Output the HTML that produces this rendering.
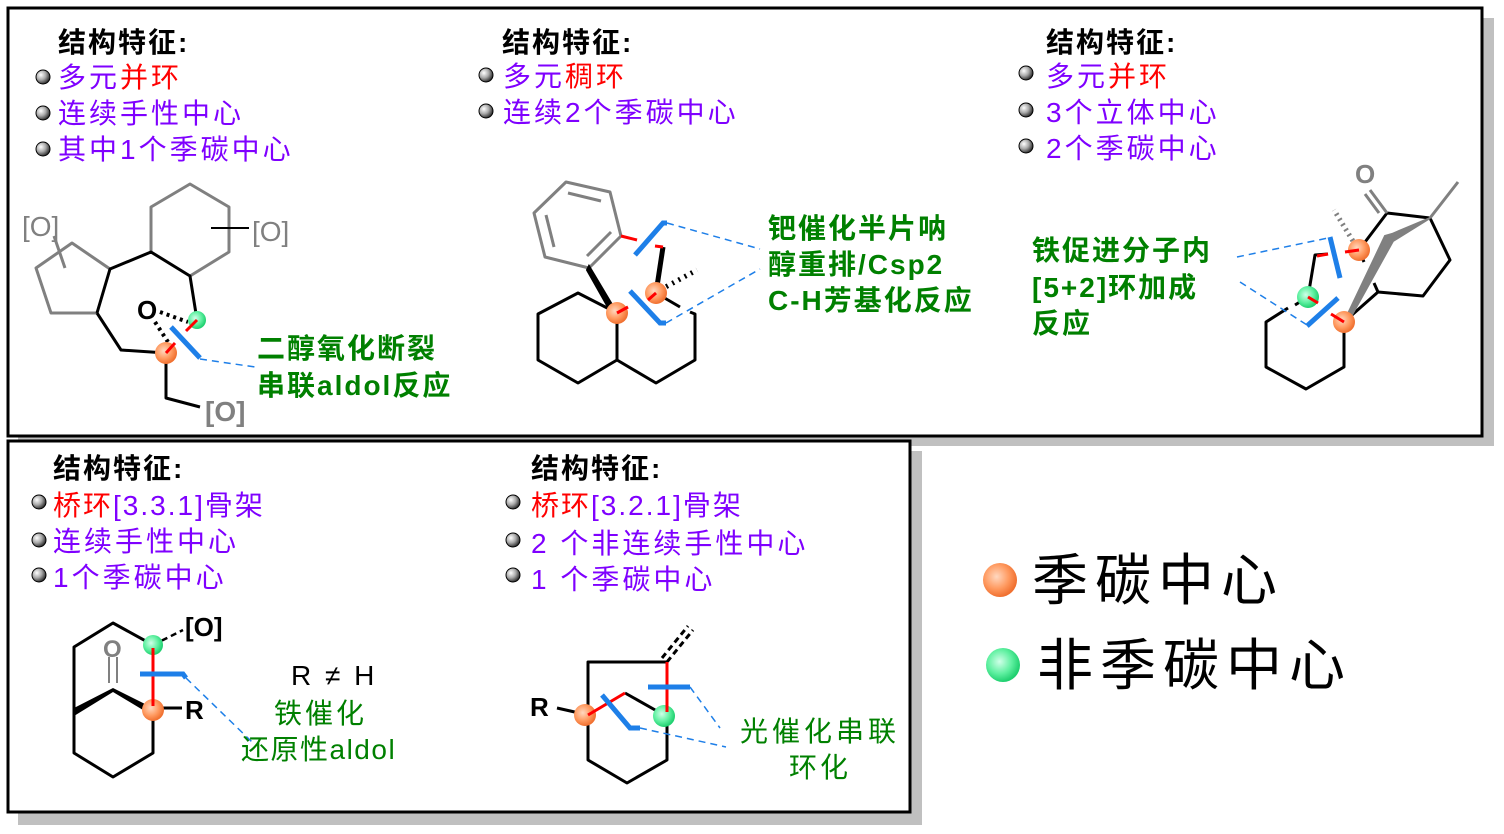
<!DOCTYPE html>
<html><head><meta charset="utf-8"><style>
html,body{margin:0;padding:0;background:#fff;}
svg{display:block;}
text{font-family:"Liberation Sans","Noto Sans CJK SC",sans-serif;}
.h{font-size:28px;fill:#000;font-weight:bold;letter-spacing:2px;}
.p{font-size:28px;fill:#7f00ff;letter-spacing:3px;}
.r{fill:#ff0000;}
.g{font-size:28px;fill:#008000;font-weight:bold;letter-spacing:2px;}
.gn{font-size:28px;fill:#008000;letter-spacing:3px;}
.k{stroke:#000;stroke-width:3;fill:none;stroke-linejoin:round;}
.gr{stroke:#808080;stroke-width:3;fill:none;stroke-linejoin:round;}
.rd{stroke:#ff0000;stroke-width:3;}
.bl{stroke:#1e7fe8;stroke-width:5;fill:none;}
.ds{stroke:#1e7fe8;stroke-width:1.5;stroke-dasharray:7,5;fill:none;}
</style></head><body>
<svg width="1504" height="834" viewBox="0 0 1504 834" xmlns="http://www.w3.org/2000/svg">
<defs>
<radialGradient id="bb" cx="0.35" cy="0.35" r="0.7"><stop offset="0" stop-color="#fff"/><stop offset="0.5" stop-color="#aaa"/><stop offset="1" stop-color="#222"/></radialGradient>
<radialGradient id="og" cx="0.4" cy="0.4" r="0.6"><stop offset="0" stop-color="#ffd8c0"/><stop offset="0.6" stop-color="#ff9a60"/><stop offset="1" stop-color="#f07030"/></radialGradient>
<radialGradient id="gg" cx="0.4" cy="0.4" r="0.6"><stop offset="0" stop-color="#d0ffe8"/><stop offset="0.6" stop-color="#5ef0a0"/><stop offset="1" stop-color="#20d070"/></radialGradient>
</defs>
<rect x="18" y="18" width="1476" height="428" fill="#c0c0c0"/>
<rect x="8" y="8" width="1474" height="428" fill="#fff" stroke="#000" stroke-width="3"/>
<rect x="18" y="451" width="904" height="374" fill="#c0c0c0"/>
<rect x="8" y="441" width="902" height="371" fill="#fff" stroke="#000" stroke-width="3"/>

<text class="h" x="58" y="52">结构特征:</text>
<circle cx="43" cy="77" r="7" fill="url(#bb)" stroke="#000" stroke-width="1"/>
<text class="p" x="58" y="87">多元<tspan class="r">并环</tspan></text>
<circle cx="43" cy="113" r="7" fill="url(#bb)" stroke="#000" stroke-width="1"/>
<text class="p" x="58" y="123">连续手性中心</text>
<circle cx="43" cy="149" r="7" fill="url(#bb)" stroke="#000" stroke-width="1"/>
<text class="p" x="58" y="159">其中1个季碳中心</text>

<text class="h" x="502" y="52">结构特征:</text>
<circle cx="486" cy="75" r="7" fill="url(#bb)" stroke="#000" stroke-width="1"/>
<text class="p" x="503" y="86">多元<tspan class="r">稠环</tspan></text>
<circle cx="486" cy="111" r="7" fill="url(#bb)" stroke="#000" stroke-width="1"/>
<text class="p" x="503" y="122">连续2个季碳中心</text>

<text class="h" x="1046" y="52">结构特征:</text>
<circle cx="1026" cy="73" r="7" fill="url(#bb)" stroke="#000" stroke-width="1"/>
<text class="p" x="1046" y="86">多元<tspan class="r">并环</tspan></text>
<circle cx="1026" cy="110" r="7" fill="url(#bb)" stroke="#000" stroke-width="1"/>
<text class="p" x="1046" y="122">3个立体中心</text>
<circle cx="1026" cy="146" r="7" fill="url(#bb)" stroke="#000" stroke-width="1"/>
<text class="p" x="1046" y="158">2个季碳中心</text>

<text class="h" x="53" y="478">结构特征:</text>
<circle cx="39" cy="502" r="7" fill="url(#bb)" stroke="#000" stroke-width="1"/>
<text class="p" x="53" y="515" style="letter-spacing:2px"><tspan class="r">桥环</tspan>[3.3.1]骨架</text>
<circle cx="39" cy="540" r="7" fill="url(#bb)" stroke="#000" stroke-width="1"/>
<text class="p" x="53" y="551">连续手性中心</text>
<circle cx="39" cy="575" r="7" fill="url(#bb)" stroke="#000" stroke-width="1"/>
<text class="p" x="53" y="587">1个季碳中心</text>

<text class="h" x="531" y="478">结构特征:</text>
<circle cx="513" cy="502" r="7" fill="url(#bb)" stroke="#000" stroke-width="1"/>
<text class="p" x="531" y="515" style="letter-spacing:2px"><tspan class="r">桥环</tspan>[3.2.1]骨架</text>
<circle cx="513" cy="540" r="7" fill="url(#bb)" stroke="#000" stroke-width="1"/>
<text class="p" x="531" y="553">2 个非连续手性中心</text>
<circle cx="513" cy="575" r="7" fill="url(#bb)" stroke="#000" stroke-width="1"/>
<text class="p" x="531" y="589">1 个季碳中心</text>

<circle cx="1000" cy="580" r="17" fill="url(#og)"/>
<text x="1032" y="600" style="font-size:56px;letter-spacing:7px;fill:#000">季碳中心</text>
<circle cx="1003" cy="665" r="17" fill="url(#gg)"/>
<text x="1037" y="685" style="font-size:56px;letter-spacing:7px;fill:#000">非季碳中心</text>

<!-- structure 1 -->
<polyline class="gr" points="110,269 72,243 36,268 51,313 97,313"/>
<polyline class="gr" points="151,252 151,207 190,184 229,207 229,252 190,276"/>
<line class="gr" x1="54" y1="236" x2="65" y2="268" stroke-width="2"/>
<text x="22" y="236" style="font-size:28px;fill:#808080">[O]</text>
<line x1="211" y1="228" x2="249" y2="228" stroke="#000" stroke-width="2"/>
<text x="252" y="241" style="font-size:28px;fill:#808080">[O]</text>
<polyline class="k" points="97,313 110,269 151,252 190,276 197,320"/>
<polyline class="k" points="97,313 121,350 166,353 166,398 200,407"/>
<text x="205" y="421" style="font-size:28px;fill:#808080;font-weight:bold">[O]</text>
<text x="137" y="319" style="font-size:26px;fill:#000;font-weight:bold">O</text>
<line x1="160" y1="312" x2="188" y2="322" stroke="#000" stroke-width="4" stroke-dasharray="3,4"/>
<line x1="155" y1="322" x2="168" y2="342" stroke="#000" stroke-width="4" stroke-dasharray="3,4"/>
<circle cx="197" cy="320" r="9" fill="url(#gg)"/>
<circle cx="166" cy="353" r="11" fill="url(#og)"/>
<line class="rd" x1="197" y1="320" x2="186" y2="331"/>
<line class="rd" x1="166" y1="353" x2="175" y2="343"/>
<line class="bl" x1="171" y1="327" x2="200" y2="358"/>
<line class="ds" x1="200" y1="359" x2="255" y2="367"/>
<text class="g" x="257" y="358">二醇氧化断裂</text>
<text class="g" x="257" y="395">串联aldol反应</text>

<!-- structure 2 -->
<polygon class="gr" points="566,182 610,192 621,236 589,268 545,257 534,213"/>
<line class="gr" x1="568" y1="193" x2="601" y2="201" stroke-width="2.5"/>
<line class="gr" x1="611" y1="232" x2="587" y2="256" stroke-width="2.5"/>
<line class="gr" x1="546" y1="215" x2="554" y2="247" stroke-width="2.5"/>
<polygon points="589,266 617,313 613,316 587,270" fill="#000" stroke="#000" stroke-width="2"/>
<polyline class="k" points="617,313 578,293 538,314 538,360 578,383 617,360 617,313"/>
<polyline class="k" points="617,360 656,383 695,360 695,314 690,312"/>
<line class="k" x1="656" y1="293" x2="680" y2="307"/>
<line x1="663" y1="247" x2="656" y2="293" stroke="#000" stroke-width="5"/>
<line x1="660" y1="290" x2="697" y2="270" stroke="#000" stroke-width="5" stroke-dasharray="2,5"/>
<circle cx="656" cy="293" r="11" fill="url(#og)"/>
<circle cx="617" cy="313" r="11" fill="url(#og)"/>
<line class="rd" x1="621" y1="236" x2="637" y2="240"/>
<line class="rd" x1="655" y1="246" x2="663" y2="247"/>
<line class="rd" x1="656" y1="293" x2="648" y2="300"/>
<line class="rd" x1="617" y1="313" x2="628" y2="307"/>
<polyline class="bl" points="635,255 663,223 667,223"/>
<polyline class="bl" points="630,291 660,323 666,323"/>
<line class="ds" x1="667" y1="223" x2="760" y2="249"/>
<line class="ds" x1="666" y1="323" x2="760" y2="269"/>
<text class="g" x="768" y="238">钯催化半片呐</text>
<text class="g" x="768" y="274">醇重排/Csp2</text>
<text class="g" x="768" y="310">C-H芳基化反应</text>

<!-- structure 3 -->
<polyline class="k" points="1288,308 1266,322 1266,367 1306,389 1344,367 1344,322"/>
<line class="k" x1="1295" y1="305" x2="1308" y2="297"/>
<polyline class="k" points="1308,297 1315,255 1328,254"/>
<polyline class="k" points="1359,250 1387,213 1430,218 1450,260 1423,296 1378,292 1374,283"/>
<line class="k" x1="1378" y1="292" x2="1344" y2="322"/>
<line class="k" x1="1359" y1="250" x2="1364" y2="262"/>
<polygon points="1344,322 1385,236 1392,234 1430,218 1393,241 1348,322" fill="#808080" stroke="#808080" stroke-width="2"/>
<line class="gr" x1="1387" y1="213" x2="1370" y2="190"/>
<line class="gr" x1="1379" y1="213" x2="1365" y2="194"/>
<text x="1355" y="183" style="font-size:26px;fill:#808080;font-weight:bold">O</text>
<line class="gr" x1="1430" y1="218" x2="1458" y2="182"/>
<line x1="1356" y1="246" x2="1334" y2="210" stroke="#808080" stroke-width="5" stroke-dasharray="2,4"/>
<circle cx="1359" cy="250" r="11" fill="url(#og)"/>
<circle cx="1344" cy="322" r="11" fill="url(#og)"/>
<circle cx="1308" cy="297" r="11" fill="url(#gg)"/>
<line class="rd" x1="1317" y1="256" x2="1328" y2="254"/>
<line class="rd" x1="1345" y1="252" x2="1359" y2="250"/>
<line class="rd" x1="1308" y1="297" x2="1318" y2="303"/>
<line class="rd" x1="1331" y1="314" x2="1344" y2="322"/>
<line class="bl" x1="1330" y1="237" x2="1340" y2="278"/>
<line class="bl" x1="1307" y1="326" x2="1338" y2="298"/>
<line class="ds" x1="1237" y1="257" x2="1328" y2="238"/>
<line class="ds" x1="1240" y1="282" x2="1307" y2="325"/>
<text class="g" x="1032" y="260">铁促进分子内</text>
<text class="g" x="1032" y="297">[5+2]环加成</text>
<text class="g" x="1032" y="333">反应</text>

<!-- structure 4 -->
<polyline class="k" points="153,645 113,623 74,647 74,753 113,777 153,753 153,708"/>
<polygon points="113,688 74,708 74,716 113,692 153,716 153,708" fill="#000"/>
<line x1="109" y1="657" x2="109" y2="683" stroke="#808080" stroke-width="2"/>
<line x1="117" y1="657" x2="117" y2="683" stroke="#808080" stroke-width="2"/>
<text x="103" y="657" style="font-size:24px;fill:#808080;font-weight:bold">O</text>
<line x1="153" y1="708" x2="182" y2="708" stroke="#000" stroke-width="3"/>
<text x="185" y="719" style="font-size:26px;fill:#000;font-weight:bold">R</text>
<line x1="153" y1="645" x2="183" y2="630" stroke="#000" stroke-width="2.5" stroke-dasharray="6,4"/>
<text x="185" y="636" style="font-size:26px;fill:#000;font-weight:bold">[O]</text>
<circle cx="153" cy="645" r="10" fill="url(#gg)"/>
<circle cx="153" cy="710" r="11" fill="url(#og)"/>
<line class="rd" x1="153" y1="648" x2="153" y2="706"/>
<polyline class="bl" points="140,674 183,674 186,678"/>
<line class="ds" x1="186" y1="678" x2="252" y2="742"/>
<text x="291" y="685" style="font-size:28px;fill:#000;letter-spacing:3px">R ≠ H</text>
<text class="gn" x="274" y="723">铁催化</text>
<text class="gn" x="241" y="759" style="letter-spacing:1.5px">还原性aldol</text>

<!-- structure 5 -->
<polyline class="k" points="588,715 588,662 667,662"/>
<polyline class="k" points="588,715 588,760 627,783 667,760 667,715"/>
<line x1="667" y1="662" x2="693" y2="630" stroke="#000" stroke-width="3" stroke-dasharray="6,4"/>
<line x1="662" y1="658" x2="688" y2="626" stroke="#000" stroke-width="3" stroke-dasharray="6,4"/>
<line class="k" x1="557" y1="708" x2="588" y2="715"/>
<text x="530" y="716" style="font-size:26px;fill:#000;font-weight:bold">R</text>
<line class="k" x1="625" y1="693" x2="664" y2="715"/>
<circle cx="585" cy="715" r="11" fill="url(#og)"/>
<circle cx="664" cy="716" r="11" fill="url(#gg)"/>
<line class="rd" x1="667" y1="662" x2="667" y2="712"/>
<line class="rd" x1="588" y1="715" x2="625" y2="693"/>
<line class="bl" x1="648" y1="687" x2="690" y2="687"/>
<line class="ds" x1="690" y1="687" x2="720" y2="728"/>
<polyline class="bl" points="602,695 630,728 640,728"/>
<line class="ds" x1="640" y1="728" x2="726" y2="747"/>
<text class="gn" x="740" y="741" style="letter-spacing:4px">光催化串联</text>
<text class="gn" x="789" y="777">环化</text>
</svg>
</body></html>
